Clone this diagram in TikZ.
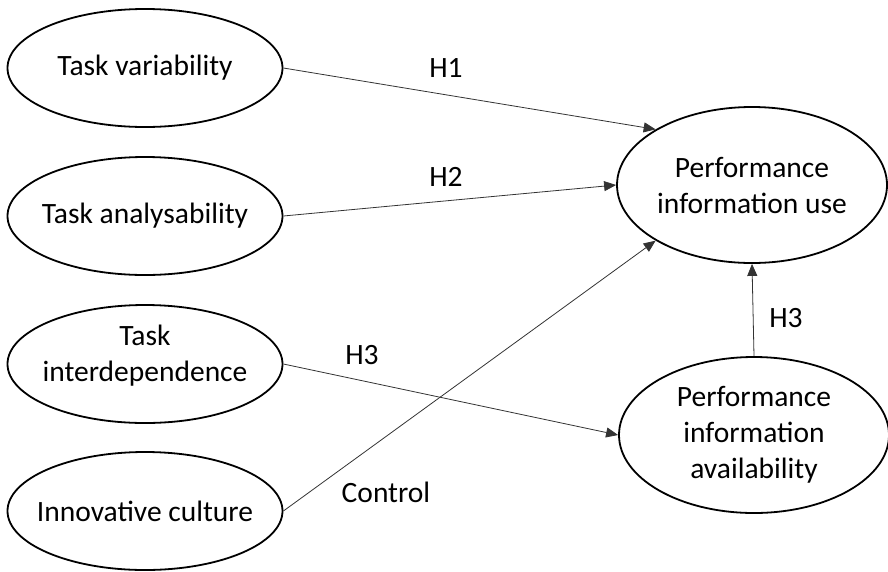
\documentclass[tikz,border=0pt]{standalone}
\usepackage{fontspec}
\setmainfont{Carlito}
\usetikzlibrary{shapes.geometric,arrows.meta,positioning}
\tikzset{
    -{Triangle[length=12pt,width=10pt]},node distance =1 cm and 1 cm,
    construct/.style ={ellipse, draw, line width=1.8pt, minimum width=275pt, minimum height=118pt,
        inner xsep=-14pt, inner ysep=0pt, align=center, font=\fontsize{29.5}{36}\selectfont},
    outcome/.style ={construct, minimum width=270pt, minimum height=156pt},
    hyp/.style = {inner sep=0pt, font=\fontsize{29.5}{36}\selectfont},
    link/.style = {line width=0.8pt, draw=black!80}
}

\begin{document}
\begin{tikzpicture}[x=1pt,y=-1pt]
      \useasboundingbox (0,0) rectangle (888,571);
      \node[construct] (var) at (145,68) {Task variability};
      \node[construct] (ana) at (145,216) {Task analysability};
      \node[construct] (inter) at (145,364) {Task\\interdependence\rule[-22pt]{0pt}{22pt}};
      \node[construct] (cult) at (145,511) {Innovative culture};
      \node[outcome] (use) at (752,185) {Performance\\information use};
      \node[outcome] (avail) at (754,435) {Performance\\information\\availability};

      \node[hyp] (h1) at (446,68) {H1};
      \node[hyp] (h2) at (446,177) {H2};
      \node[hyp] (h3a) at (362,355) {H3};
      \node[hyp] (ctrl) at (386,492) {Control};
      \node[hyp] (h3b) at (786,318) {H3};

      \draw[link] (var.east) -- (use.150);
      \draw[link] (ana.east) -- (use.west);
      \draw[link] (inter.east) -- (avail.west);
      \draw[link] (cult.east) -- (use.210);
      \draw[link] (avail.north) -- (use.south);
    \end{tikzpicture}
\end{document}
